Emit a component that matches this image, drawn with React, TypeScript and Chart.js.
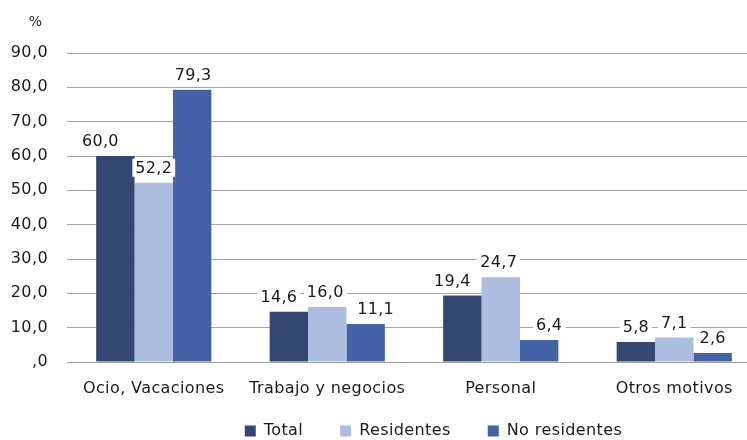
import React, { useEffect, useRef } from "react";
import { Chart, registerables } from "chart.js";

Chart.register(...registerables);

const categories = ["Ocio, Vacaciones", "Trabajo y negocios", "Personal", "Otros motivos"];
const totalValues = [60.0, 14.6, 19.4, 5.8];
const residentesValues = [52.2, 16.0, 24.7, 7.1];
const noResidentesValues = [79.3, 11.1, 6.4, 2.6];
const seriesNames = ["Total", "Residentes", "No residentes"];
const seriesColors = ["#344672", "#adbde0", "#4662a6"];
const unitLabel = "%";

// horizontal nudges (px) of the value labels, as placed in the original
const LABEL_NUDGE = [
  [-15, -10, -10, 0],
  [0, -2, -2, 0],
  [1, 10, 10, 0],
];

const FONT = "'DejaVu Sans', Verdana, sans-serif";
const TEXT = "#1a1a1a";

const fmt = (v: number) => {
  const s = v.toFixed(1).replace(".", ",");
  return s.startsWith("0,") ? s.slice(1) : s;
};

const spacingPlugin = {
  id: "spacing",
  beforeLayout(chart: any) {
    chart.ctx.letterSpacing = "0.4px";
  },
  afterLayout(chart: any) {
    const x = chart.scales.x;
    // plot area of the original extends past the right edge of the picture
    x.right = x.right + 14;
    x.width = x.right - x.left;
    x.bottom = chart.height;
    x.height = x.bottom - x.top;
    x.configure();
    const lg = chart.legend;
    if (lg) {
      lg.left += 60;
      lg.right += 60;
    }
  },
  beforeDraw(chart: any) {
    chart.ctx.letterSpacing = "0.4px";
  },
};

const labelPlugin = {
  id: "valueLabels",
  afterDatasetsDraw(chart: any) {
    const ctx = chart.ctx;
    ctx.save();
    ctx.letterSpacing = "0.3px";
    ctx.font = `16px ${FONT}`;
    ctx.textAlign = "center";
    ctx.textBaseline = "middle";
    chart.data.datasets.forEach((ds: any, di: number) => {
      const meta = chart.getDatasetMeta(di);
      meta.data.forEach((bar: any, i: number) => {
        const text = fmt(ds.data[i]);
        const w = ctx.measureText(text).width;
        const cx = bar.x + (LABEL_NUDGE[di]?.[i] ?? 0);
        const cy = bar.y - 15;
        ctx.fillStyle = "#ffffff";
        ctx.fillRect(cx - w / 2 - 3, cy - 9, w + 6, 18);
        ctx.fillStyle = TEXT;
        ctx.fillText(text, cx, cy + 1);
      });
    });
    ctx.font = `14px ${FONT}`;
    ctx.fillStyle = TEXT;
    ctx.textAlign = "center";
    ctx.fillText(unitLabel, 35.5, 22);
    ctx.restore();
  },
};

export default function App() {
  const ref = useRef<HTMLCanvasElement>(null);
  useEffect(() => {
    if (!ref.current) return;
    const chart = new Chart(ref.current, {
      type: "bar",
      data: {
        labels: categories,
        datasets: [totalValues, residentesValues, noResidentesValues].map((d, i) => ({
          label: seriesNames[i],
          data: d,
          backgroundColor: seriesColors[i],
          borderWidth: 0,
          categoryPercentage: 0.664,
          barPercentage: 1,
        })),
      },
      options: {
        animation: false,
        responsive: false,
        maintainAspectRatio: false,
        layout: { padding: { top: 53, right: 0, left: 0, bottom: -9 } },
        plugins: {
          tooltip: { enabled: false },
          legend: {
            position: "bottom",
            labels: {
              boxWidth: 11,
              boxHeight: 11,
              padding: 37,
              color: TEXT,
              font: { family: FONT, size: 16 },
            },
          },
        },
        scales: {
          x: {
            afterFit: (s: any) => {
              s.height = 24;
            },
            grid: { display: false, drawTicks: false },
            border: { color: "#a0a0a0" },
            ticks: { color: TEXT, font: { family: FONT, size: 16 }, padding: 17, maxRotation: 0 },
          },
          y: {
            min: 0,
            max: 90,
            afterFit: (s: any) => {
              s.width = 67;
            },
            grid: { color: "#a6a6a6", drawTicks: true, tickLength: 12, tickColor: "transparent" },
            border: { display: false },
            ticks: {
              stepSize: 10,
              color: TEXT,
              padding: 7,
              font: { family: FONT, size: 16 },
              callback: (v: any) => fmt(Number(v)),
            },
          },
        },
      },
      plugins: [spacingPlugin, labelPlugin],
    });
    return () => chart.destroy();
  }, []);
  return (
    <div style={{ position: "fixed", left: 0, top: 0, width: 747, height: 440, background: "#fff" }}>
      <canvas ref={ref} width={747} height={440} style={{ width: 747, height: 440 }} />
    </div>
  );
}
